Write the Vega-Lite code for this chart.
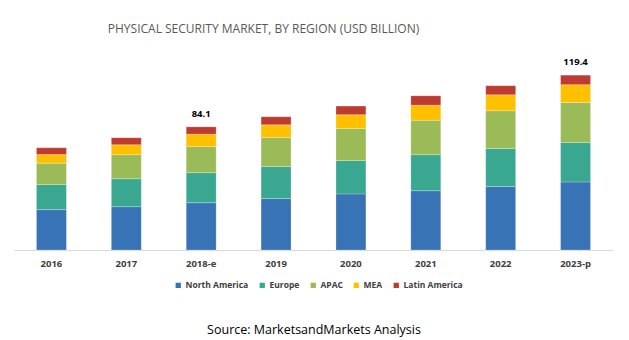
{
  "$schema": "https://vega.github.io/schema/vega-lite/v6.json",
  "autosize": {"type": "none"},
  "width": 599,
  "height": 205,
  "padding": {"left": 14, "top": 45, "right": 16, "bottom": 90},
  "background": "white",
  "config": {"view": {"stroke": null}, "font": "Open Sans"},
  "title": {
    "text": "PHYSICAL SECURITY MARKET, BY REGION (USD BILLION)",
    "fontSize": 12,
    "fontWeight": "normal",
    "color": "#595959",
    "font": "Open Sans",
    "anchor": "middle",
    "dx": -50,
    "offset": 9
  },
  "datasets": {
    "segments": [
      {"year": "2016", "region": "North America", "value": 27.6},
      {"year": "2016", "region": "Europe", "value": 17.1},
      {"year": "2016", "region": "APAC", "value": 14.6},
      {"year": "2016", "region": "MEA", "value": 5.9},
      {"year": "2016", "region": "Latin America", "value": 4.6},
      {"year": "2017", "region": "North America", "value": 29.6},
      {"year": "2017", "region": "Europe", "value": 19.1},
      {"year": "2017", "region": "APAC", "value": 16.4},
      {"year": "2017", "region": "MEA", "value": 6.8},
      {"year": "2017", "region": "Latin America", "value": 4.8},
      {"year": "2018-e", "region": "North America", "value": 32.3},
      {"year": "2018-e", "region": "Europe", "value": 20.5},
      {"year": "2018-e", "region": "APAC", "value": 17.8},
      {"year": "2018-e", "region": "MEA", "value": 8.5},
      {"year": "2018-e", "region": "Latin America", "value": 5.0},
      {"year": "2019", "region": "North America", "value": 35.1},
      {"year": "2019", "region": "Europe", "value": 21.9},
      {"year": "2019", "region": "APAC", "value": 19.8},
      {"year": "2019", "region": "MEA", "value": 8.7},
      {"year": "2019", "region": "Latin America", "value": 5.5},
      {"year": "2020", "region": "North America", "value": 38.3},
      {"year": "2020", "region": "Europe", "value": 22.8},
      {"year": "2020", "region": "APAC", "value": 21.9},
      {"year": "2020", "region": "MEA", "value": 9.4},
      {"year": "2020", "region": "Latin America", "value": 5.9},
      {"year": "2021", "region": "North America", "value": 40.5},
      {"year": "2021", "region": "Europe", "value": 24.6},
      {"year": "2021", "region": "APAC", "value": 23.5},
      {"year": "2021", "region": "MEA", "value": 10.3},
      {"year": "2021", "region": "Latin America", "value": 6.4},
      {"year": "2022", "region": "North America", "value": 43.3},
      {"year": "2022", "region": "Europe", "value": 26.0},
      {"year": "2022", "region": "APAC", "value": 25.8},
      {"year": "2022", "region": "MEA", "value": 10.9},
      {"year": "2022", "region": "Latin America", "value": 6.2},
      {"year": "2023-p", "region": "North America", "value": 46.5},
      {"year": "2023-p", "region": "Europe", "value": 26.9},
      {"year": "2023-p", "region": "APAC", "value": 27.4},
      {"year": "2023-p", "region": "MEA", "value": 12.1},
      {"year": "2023-p", "region": "Latin America", "value": 6.5}
    ],
    "totals": [
      {"year": "2018-e", "total": 84.1, "label": "84.1"},
      {"year": "2023-p", "total": 119.4, "label": "119.4"}
    ]
  },
  "encoding": {
    "x": {
      "field": "year",
      "type": "nominal",
      "sort": ["2016", "2017", "2018-e", "2019", "2020", "2021", "2022", "2023-p"],
      "scale": {"paddingInner": 0.6, "paddingOuter": 0.3},
      "axis": {
        "title": "Source: MarketsandMarkets Analysis",
        "titleFont": "Open Sans",
        "titleFontSize": 12.5,
        "titleFontWeight": "normal",
        "titleColor": "#000000",
        "titlePadding": 56,
        "labelAngle": 0,
        "labelFontSize": 9.5,
        "labelFontWeight": "bold",
        "labelColor": "#404040",
        "labelPadding": 8,
        "ticks": false,
        "domainColor": "#d9d9d9",
        "domainWidth": 1
      }
    }
  },
  "layer": [
    {
      "data": {"name": "segments"},
      "transform": [
        {"calculate": "indexof(['North America', 'Europe', 'APAC', 'MEA', 'Latin America'], datum.region)", "as": "stackOrder"}
      ],
      "mark": {"type": "bar", "stroke": "#ffffff", "strokeWidth": 0.4, "strokeOpacity": 0.6},
      "encoding": {
        "y": {
          "field": "value",
          "type": "quantitative",
          "aggregate": "sum",
          "stack": "zero",
          "scale": {"domain": [0, 140], "nice": false},
          "axis": null
        },
        "order": {"field": "stackOrder", "type": "quantitative", "sort": "ascending"},
        "color": {
          "field": "region",
          "type": "nominal",
          "sort": ["North America", "Europe", "APAC", "MEA", "Latin America"],
          "scale": {
            "domain": ["North America", "Europe", "APAC", "MEA", "Latin America"],
            "range": ["#3773b5", "#3aa890", "#9bbb59", "#ffc000", "#bd3b31"]
          },
          "legend": {
            "title": null,
            "orient": "none",
            "direction": "horizontal",
            "legendX": 160,
            "legendY": 236,
            "symbolType": "square",
            "symbolSize": 28,
            "symbolStrokeWidth": 0,
            "labelFontSize": 8.5,
            "labelFontWeight": "bold",
            "labelColor": "#404040",
            "labelFont": "Open Sans",
            "columnPadding": 9,
            "labelOffset": 3
          }
        }
      }
    },
    {
      "data": {"name": "totals"},
      "mark": {"type": "text", "dy": -13, "fontSize": 9.5, "fontWeight": "bold", "color": "#000000", "font": "Open Sans"},
      "encoding": {
        "y": {"field": "total", "type": "quantitative"},
        "text": {"field": "label", "type": "nominal"}
      }
    }
  ]
}
